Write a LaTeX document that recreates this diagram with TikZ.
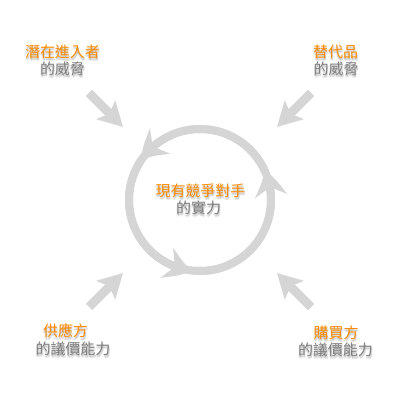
\documentclass[tikz,border=0pt]{standalone}
\usepackage{fontspec}
\newfontfamily\cjkfont{Noto Sans CJK TC}
\usetikzlibrary{arrows.meta,bending}
\definecolor{forceorange}{HTML}{FF8C00}
\definecolor{forcegray}{HTML}{808080}
\definecolor{ringgray}{HTML}{D5D5D5}
% text with a soft drop shadow built from faint offset copies
\newcommand\hazed[1]{\leavevmode
  \pgfsetfillopacity{0.09}%
  \rlap{\hspace{0.3pt}\smash{\raisebox{-1pt}{\color{black}#1}}}%
  \rlap{\hspace{1.2pt}\smash{\raisebox{-2pt}{\color{black}#1}}}%
  \rlap{\hspace{-0.6pt}\smash{\raisebox{-2.2pt}{\color{black}#1}}}%
  \rlap{\hspace{0.6pt}\smash{\raisebox{-3pt}{\color{black}#1}}}%
  \pgfsetfillopacity{1}#1}
\begin{document}
\begin{tikzpicture}[x=1pt,y=1pt,
  title/.style={inner sep=0pt, text=forceorange, font=\cjkfont\fontsize{15}{18}\selectfont},
  subtitle/.style={inner sep=0pt, text=forcegray, font=\cjkfont\fontsize{15}{18}\selectfont},
  ring/.style={draw=ringgray, line width=8pt},
  ringarc/.style={ring,
    -{Stealth[length=27pt,width=32pt,inset=9pt,bend]}},
  pusharrow/.style={draw=ringgray, line width=9pt,
    -{Stealth[length=24pt,width=26pt,inset=5pt]}}]
\useasboundingbox (0,0) rectangle (400,400);

% rivalry ring: a full circle with three heads along it
\coordinate (c) at (200,200);
\draw[ring] (c) circle[radius=71];
\draw[ringarc] (c) ++(-96:71) arc[start angle=-96, end angle=25, radius=71];
\draw[ringarc] (c) ++(25:71) arc[start angle=25, end angle=146, radius=71];
\draw[ringarc] (c) ++(146:71) arc[start angle=146, end angle=264, radius=71];

% the four outside forces pointing at the ring
\coordinate (tlTail) at (89,307);  \coordinate (tlTip) at (123,273);
\coordinate (trTail) at (311,307); \coordinate (trTip) at (277,273);
\coordinate (blTail) at (89,93);   \coordinate (blTip) at (123,127);
\coordinate (brTail) at (311,93);  \coordinate (brTip) at (277,127);
\draw[pusharrow] (tlTail) -- (tlTip);
\draw[pusharrow] (trTail) -- (trTip);
\draw[pusharrow] (blTail) -- (blTip);
\draw[pusharrow] (brTail) -- (brTip);

% labels
\node[title]    (entrant)  at (62.5,348) {\hazed{潛在進入者}};
\node[subtitle] (entrantB) at (62.5,331) {\hazed{的威脅}};
\node[title]    (subst)    at (335.5,348) {\hazed{替代品}};
\node[subtitle] (substB)   at (336,331) {\hazed{的威脅}};
\node[title]    (rival)    at (200.5,209) {\hazed{現有競爭對手}};
\node[subtitle] (rivalB)   at (198.5,192) {\hazed{的實力}};
\node[title]    (supplier) at (65.5,69) {\hazed{供應方}};
\node[subtitle] (supplierB) at (73,51) {\hazed{的議價能力}};
\node[title]    (buyer)    at (336,67) {\hazed{購買方}};
\node[subtitle] (buyerB)   at (335.5,50) {\hazed{的議價能力}};
\end{tikzpicture}
\end{document}
